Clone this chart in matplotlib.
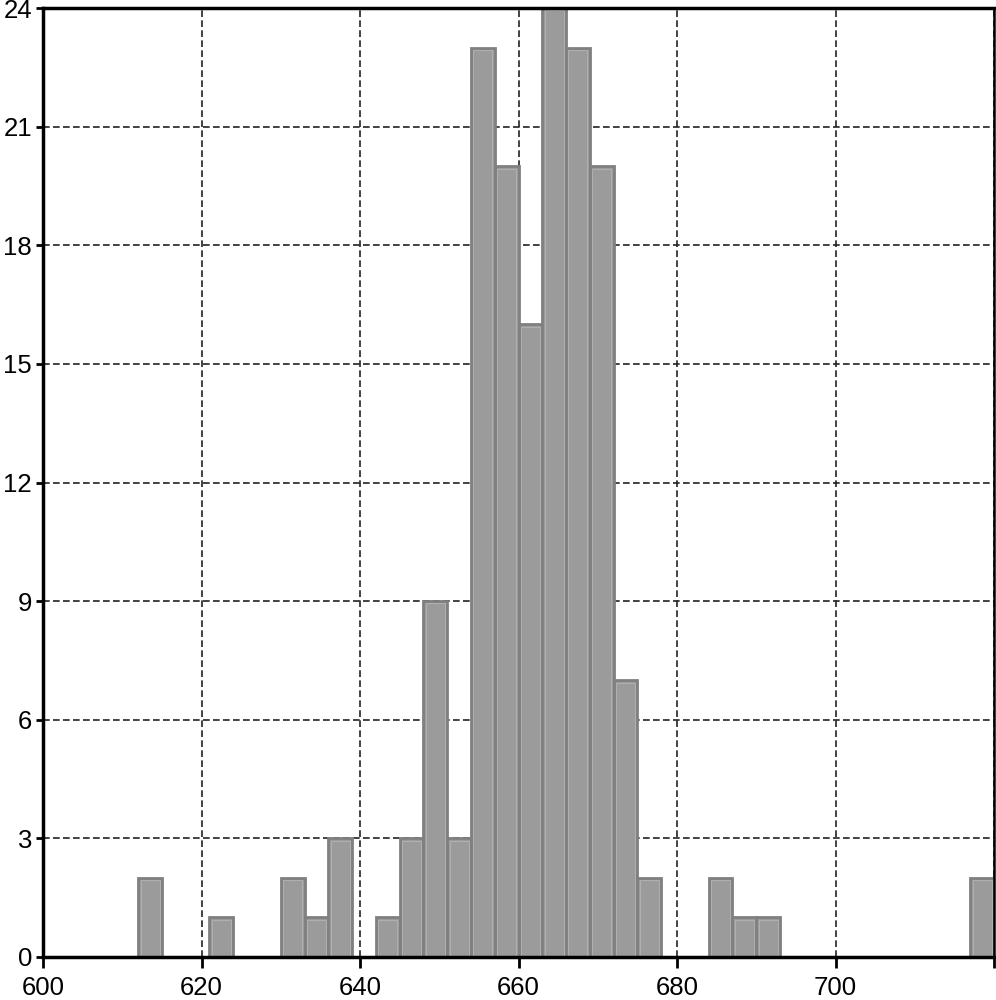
import numpy as np
import matplotlib
matplotlib.use("Agg")
from matplotlib import pyplot as plt

# histogram bins: 612 to 720, width 3
bin_start = 612
bin_width = 3
counts = [2, 0, 0, 1, 0, 0, 2, 1, 3, 0, 1, 3, 9, 3, 23, 20, 16, 24,
          23, 20, 7, 2, 0, 0, 2, 1, 1, 0, 0, 0, 0, 0, 0, 0, 0, 2]
x_ticks = [600, 620, 640, 660, 680, 700, 720]
x_labels = ['600', '620', '640', '660', '680', '700', '']
y_ticks = [0, 3, 6, 9, 12, 15, 18, 21, 24]

edges = bin_start + bin_width * np.arange(len(counts))

plt.rcParams['font.family'] = ['Liberation Sans', 'DejaVu Sans']
fig = plt.figure(figsize=(9.96, 10), dpi=100)
ax = fig.add_axes([0.0432, 0.043, 0.9548, 0.949])

ax.bar(edges, counts, width=bin_width, align='edge', color='#9b9b9b',
       edgecolor='#808080', linewidth=2.0, zorder=3)
# light inner rim
ax.bar(edges + 0.3, np.maximum(np.array(counts) - 0.06, 0), width=bin_width - 0.6,
       align='edge', color='none', edgecolor='#b0b0b0', linewidth=0.7, zorder=4)

ax.set_xlim(600, 720)
ax.set_ylim(0, 24)
ax.set_xticks(x_ticks)
ax.set_xticklabels(x_labels)
ax.set_yticks(y_ticks)
ax.tick_params(axis='x', labelsize=18.5, length=8, width=2, direction='out',
               colors='black', pad=6)
ax.tick_params(axis='y', labelsize=18.5, length=5, width=2, direction='out',
               colors='black', pad=3)
ax.grid(True, color='#222222', linestyle=(0, (4, 2)), linewidth=1.2, zorder=0)
ax.set_axisbelow(True)
for s in ax.spines.values():
    s.set_linewidth(2.5)
    s.set_color('black')
    s.set_zorder(5)
ax.spines['right'].set_linewidth(1.8)

plt.savefig('out.png', dpi=100)
